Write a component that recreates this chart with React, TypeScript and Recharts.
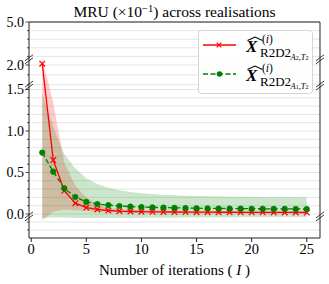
import React from "react";
import {
  ComposedChart,
  Area,
  Line,
  XAxis,
  YAxis,
  CartesianGrid,
  ReferenceLine,
} from "recharts";

// iterations on the x axis
const ITERATIONS = [1, 2, 3, 4, 5, 6, 7, 8, 9, 10, 11, 12, 13, 14, 15, 16, 17, 18, 19, 20, 21, 22, 23, 24, 25];

// R2D2 (A2, T2) – red, mean and spread
const RED_MEAN = [2.09, 0.65, 0.28, 0.13, 0.078, 0.055, 0.042, 0.034, 0.03, 0.028, 0.026, 0.025, 0.024, 0.023, 0.022, 0.022, 0.021, 0.021, 0.02, 0.02, 0.02, 0.019, 0.019, 0.019, 0.018];
const RED_LOW = [-0.08, 0.03, 0.05, 0.045, 0.035, 0.028, 0.022, 0.018, 0.015, 0.014, 0.013, 0.012, 0.011, 0.011, 0.01, 0.01, 0.01, 0.009, 0.009, 0.009, 0.009, 0.008, 0.008, 0.008, 0.008];
const RED_HIGH = [2.45, 1.34, 0.62, 0.34, 0.2, 0.11, 0.075, 0.058, 0.05, 0.045, 0.041, 0.039, 0.037, 0.036, 0.035, 0.034, 0.033, 0.033, 0.032, 0.032, 0.031, 0.031, 0.03, 0.03, 0.03];

// R2D2 (A1, T2) – green, mean and spread
const GREEN_MEAN = [0.74, 0.51, 0.31, 0.205, 0.146, 0.12, 0.107, 0.096, 0.089, 0.084, 0.08, 0.077, 0.074, 0.072, 0.07, 0.068, 0.067, 0.066, 0.065, 0.064, 0.063, 0.062, 0.062, 0.061, 0.06];
const GREEN_LOW = [-0.05, -0.045, -0.045, -0.05, -0.05, -0.05, -0.05, -0.05, -0.05, -0.05, -0.048, -0.047, -0.046, -0.045, -0.045, -0.044, -0.043, -0.043, -0.042, -0.042, -0.041, -0.041, -0.04, -0.04, -0.04];
const GREEN_HIGH = [1.45, 1.05, 0.72, 0.55, 0.43, 0.36, 0.315, 0.285, 0.265, 0.25, 0.24, 0.232, 0.226, 0.221, 0.217, 0.214, 0.211, 0.209, 0.207, 0.205, 0.204, 0.203, 0.202, 0.201, 0.2];

const X_TICKS = [0, 5, 10, 15, 20, 25];
const Y_LABELS = ["0.0", "0.5", "1.0", "1.5", "2.0", "5.0"];
const Y_GRID = [-0.2, -0.1, 0, 0.1, 0.2, 0.3, 0.4, 0.5, 0.6, 0.7, 0.8, 0.9, 1.0, 1.1, 1.2, 1.3, 1.4, 1.5, 1.6, 1.8, 2.0, 2.6, 3.2, 3.8, 4.4, 5.0];
const Y_BREAKS = [2.4, 1.58, -0.03];

// broken y axis: piecewise linear, value -> display units
const SEG_V = [-0.3, 0, 1.5, 2, 5];
const SEG_D = [0, 24, 148.5, 173, 216];
const D_MAX = 216;

function toD(v: number) {
  let i = 0;
  while (i < SEG_V.length - 2 && v > SEG_V[i + 1]) i++;
  const t = (v - SEG_V[i]) / (SEG_V[i + 1] - SEG_V[i]);
  return SEG_D[i] + t * (SEG_D[i + 1] - SEG_D[i]);
}

const FONT = "'Liberation Serif', 'DejaVu Serif', serif";
const SPINE = "#222";

const k = (d: number) => d.toFixed(4);
const labelAt = new Map<string, string>();
Y_LABELS.forEach((s) => labelAt.set(k(toD(parseFloat(s))), s));
const breakAt = new Set(Y_BREAKS.map((v) => k(toD(v))));

const rows = ITERATIONS.map((it, i) => ({
  it,
  red: toD(RED_MEAN[i]),
  green: toD(GREEN_MEAN[i]),
  redBand: [toD(RED_LOW[i]), toD(RED_HIGH[i])],
  greenBand: [toD(GREEN_LOW[i]), toD(GREEN_HIGH[i])],
}));

function BreakMark({ x, y }: { x: number; y: number }) {
  return (
    <g stroke={SPINE} strokeWidth={0.9}>
      <line x1={x - 4} y1={y + 1.5} x2={x + 4} y2={y - 4.5} />
      <line x1={x - 4} y1={y + 4.5} x2={x + 4} y2={y - 1.5} />
    </g>
  );
}

function LeftTick(props: any) {
  const { x, y, payload } = props;
  const id = k(payload.value);
  if (breakAt.has(id)) return <BreakMark x={x} y={y} />;
  const label = labelAt.get(id);
  return (
    <g>
      <line x1={x - (label ? 3.5 : 2)} x2={x} y1={y} y2={y} stroke={SPINE} strokeWidth={0.8} />
      {label && (
        <text x={x - 5} y={y} dy="0.35em" textAnchor="end" fontSize={14} fontFamily={FONT} fill="#000">
          {label}
        </text>
      )}
    </g>
  );
}

function RightTick(props: any) {
  return <BreakMark x={props.x} y={props.y} />;
}

function CrossDot(props: any) {
  const { cx, cy } = props;
  if (cx == null || cy == null) return <g />;
  return (
    <path
      d={`M${cx - 2.8},${cy - 2.8}L${cx + 2.8},${cy + 2.8}M${cx - 2.8},${cy + 2.8}L${cx + 2.8},${cy - 2.8}`}
      stroke="#ff0000"
      strokeWidth={1.2}
      fill="none"
    />
  );
}

function XLabel(props: any) {
  const vb = props.viewBox || { x: 29, y: 238, width: 291 };
  return (
    <text x={vb.x + vb.width / 2} y={vb.y + 37} textAnchor="middle" fontSize={15} fontFamily={FONT} fill="#000">
      Number of iterations ( <tspan fontStyle="italic">I</tspan> )
    </text>
  );
}

function LegendLabel({ y, sub }: { y: number; sub: string }) {
  return (
    <g fontFamily={FONT} fill="#000">
      <polyline points={`247.5,${y - 11.5} 255,${y - 15} 262.5,${y - 11.5}`} fill="none" stroke="#000" strokeWidth={1.1} />
      <text x={246} y={y} fontSize={17} fontWeight="bold" fontStyle="italic">X</text>
      <text x={262} y={y - 9.5} fontSize={11.5}>
        (<tspan fontStyle="italic">i</tspan>)
      </text>
      <text x={260} y={y + 5} fontSize={13}>R2D2</text>
      <text x={290.5} y={y + 7.5} fontSize={8.5} fontStyle="italic">
        A<tspan fontStyle="normal" fontSize={6}>{sub}</tspan>,T<tspan fontStyle="normal" fontSize={6}>2</tspan>
      </text>
    </g>
  );
}

export default function App() {
  return (
    <div style={{ position: "absolute", left: 0, top: 0, width: 329, height: 284, background: "#fff" }}>
      <ComposedChart width={329} height={284} data={rows} margin={{ top: 22, right: 0, bottom: 0, left: 0 }}>
        <CartesianGrid
          yAxisId="l"
          vertical={false}
          stroke="#dedede"
          strokeWidth={0.8}
          horizontalCoordinatesGenerator={({ offset }: any) =>
            Y_GRID.map((v) => offset.top + offset.height * (1 - toD(v) / D_MAX))
          }
        />
        <XAxis
          dataKey="it"
          type="number"
          domain={[-0.2, 26.2]}
          ticks={X_TICKS}
          allowDataOverflow
          height={46}
          tickSize={4}
          tickMargin={2}
          axisLine={{ stroke: SPINE }}
          tickLine={{ stroke: SPINE }}
          tick={{ fill: "#000", fontSize: 14.5, fontFamily: FONT }}
          label={<XLabel />}
        />
        <YAxis
          yAxisId="l"
          type="number"
          domain={[0, D_MAX]}
          allowDataOverflow
          ticks={[...Y_GRID, ...Y_BREAKS].map(toD)}
          interval={0}
          width={29}
          tickSize={0}
          tickMargin={0}
          tickLine={false}
          axisLine={{ stroke: SPINE }}
          tick={<LeftTick />}
        />
        <YAxis
          yAxisId="r"
          orientation="right"
          type="number"
          domain={[0, D_MAX]}
          allowDataOverflow
          ticks={Y_BREAKS.map(toD)}
          interval={0}
          width={9}
          tickSize={0}
          tickMargin={0}
          tickLine={false}
          axisLine={{ stroke: SPINE }}
          tick={<RightTick />}
        />
        <ReferenceLine yAxisId="l" y={D_MAX} stroke={SPINE} strokeWidth={1} />
        <Area
          yAxisId="l"
          dataKey="redBand"
          type="linear"
          fill="#ff0000"
          fillOpacity={0.2}
          stroke="none"
          isAnimationActive={false}
          activeDot={false}
        />
        <Area
          yAxisId="l"
          dataKey="greenBand"
          type="linear"
          fill="#008000"
          fillOpacity={0.2}
          stroke="none"
          isAnimationActive={false}
          activeDot={false}
        />
        <Line
          yAxisId="l"
          dataKey="red"
          type="linear"
          stroke="#ff0000"
          strokeWidth={1.3}
          dot={<CrossDot />}
          activeDot={false}
          isAnimationActive={false}
        />
        <Line
          yAxisId="l"
          dataKey="green"
          type="linear"
          stroke="#008000"
          strokeWidth={1.3}
          strokeDasharray="5 2.5"
          dot={{ r: 2.8, fill: "#008000", stroke: "#008000", strokeWidth: 0.5, strokeDasharray: "" }}
          activeDot={false}
          isAnimationActive={false}
        />
      </ComposedChart>
      <svg width={329} height={284} style={{ position: "absolute", left: 0, top: 0, pointerEvents: "none" }}>
        <text x={174.5} y={17} textAnchor="middle" fontSize={15.5} fontFamily={FONT} fill="#000">
          MRU (×10<tspan dy={-5} fontSize={10.5}>−1</tspan>
          <tspan dy={5}>) across realisations</tspan>
        </text>
        <rect x={198.5} y={30.5} width={114} height={63} rx={3} fill="#fff" fillOpacity={0.85} stroke="#d5d5d5" />
        <line x1={203} x2={236} y1={45} y2={45} stroke="#ff0000" strokeWidth={1.3} />
        <path d="M216.7,42.7L221.3,47.3M216.7,47.3L221.3,42.7" stroke="#ff0000" strokeWidth={1.2} />
        <LegendLabel y={52} sub="2" />
        <line x1={203} x2={236} y1={74} y2={74} stroke="#008000" strokeWidth={1.3} strokeDasharray="5 2.5" />
        <circle cx={219.5} cy={74} r={2.8} fill="#008000" />
        <LegendLabel y={81} sub="1" />
      </svg>
    </div>
  );
}
